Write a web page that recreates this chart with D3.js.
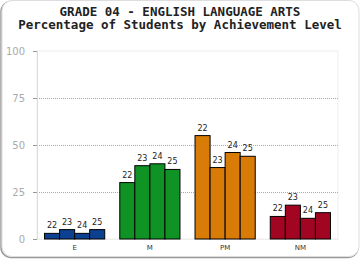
<!DOCTYPE html>
<html>
<head>
<meta charset="utf-8">
<script src="https://cdn.jsdelivr.net/npm/d3@7"></script>
<style>
body { margin: 0; background: #fff; }
</style>
</head>
<body>
<div id="chart"></div>
<script>
// data
var categories = ['E', 'M', 'PM', 'NM'];
var grades = ['22', '23', '24', '25'];
var valsE  = [3, 5, 3, 5];
var valsM  = [30, 39, 40, 37];
var valsPM = [55, 38, 46, 44];
var valsNM = [12, 18, 11, 14];
var colors = ['#0b4190', '#0f9324', '#d97b07', '#a10522'];
var yTicks = [0, 25, 50, 75, 100];

var series = [valsE, valsM, valsPM, valsNM];

var width = 360, height = 260;
var margin = {top: 51, right: 22, bottom: 21, left: 37};
var w = width - margin.left - margin.right;
var h = height - margin.top - margin.bottom;

var svg = d3.select('#chart').append('svg')
	.attr('width', width)
	.attr('height', height);

// frame
svg.append('rect')
	.attr('x', 1).attr('y', 1.5).attr('width', 357).attr('height', 256)
	.attr('rx', 10)
	.attr('fill', 'none').attr('stroke', '#999').attr('stroke-width', 1.5);
svg.append('rect')
	.attr('x', 2).attr('y', 0.5).attr('width', 357).attr('height', 256)
	.attr('rx', 10)
	.attr('fill', '#fff').attr('stroke', '#ddd');

// title
svg.append('text')
	.attr('x', 180).attr('y', 16)
	.attr('text-anchor', 'middle')
	.style('font-family', 'DejaVu Sans Mono')
	.style('font-weight', 'bold')
	.style('font-size', '12.5px')
	.attr('fill', '#222')
	.text('GRADE 04 - ENGLISH LANGUAGE ARTS');
svg.append('text')
	.attr('x', 180).attr('y', 28.5)
	.attr('text-anchor', 'middle')
	.style('font-family', 'DejaVu Sans Mono')
	.style('font-weight', 'bold')
	.style('font-size', '12.5px')
	.attr('fill', '#222')
	.text('Percentage of Students by Achievement Level');

var g = svg.append('g')
	.attr('transform', 'translate(' + margin.left + ',' + margin.top + ')');

var x0 = d3.scaleBand()
	.domain(categories)
	.range([0, w])
	.paddingInner(0.2)
	.paddingOuter(0.1);

var x1 = d3.scaleBand()
	.domain(grades)
	.range([0, x0.bandwidth()]);

var y = d3.scaleLinear()
	.domain([0, 100])
	.range([h, 0]);

// plot border
g.append('rect')
	.attr('x', 0).attr('y', 0).attr('width', w).attr('height', h)
	.attr('fill', 'none').attr('stroke', '#eee');

// grid
g.selectAll('.grid')
	.data([25, 50, 75])
	.enter().append('line')
	.attr('x1', 0).attr('x2', w)
	.attr('y1', function(d) { return Math.round(y(d)) + 0.5; })
	.attr('y2', function(d) { return Math.round(y(d)) + 0.5; })
	.attr('stroke', '#aaa')
	.attr('stroke-dasharray', '1,1');

// y axis
var yAxis = d3.axisLeft(y)
	.tickValues(yTicks)
	.tickSize(4)
	.tickPadding(8);
var yG = g.append('g').call(yAxis);
yG.select('.domain').attr('stroke', '#ddd');
yG.selectAll('.tick line').attr('stroke', '#999');
yG.selectAll('.tick text')
	.attr('fill', '#aaa')
	.style('font-family', 'DejaVu Sans')
	.style('font-size', '10px');

// x axis labels
var xAxis = d3.axisBottom(x0).tickSize(0).tickPadding(6);
var xG = g.append('g')
	.attr('transform', 'translate(0,' + h + ')')
	.call(xAxis);
xG.select('.domain').attr('stroke', '#eee');
xG.selectAll('.tick text')
	.attr('fill', '#333')
	.style('font-family', 'DejaVu Sans')
	.style('font-size', '7px');

// bars
var groups = g.selectAll('.grp')
	.data(categories)
	.enter().append('g')
	.attr('transform', function(d) { return 'translate(' + x0(d) + ',0)'; });

groups.each(function(cat, ci) {
	var vals = series[ci];
	var sel = d3.select(this);
	sel.selectAll('rect')
		.data(vals)
		.enter().append('rect')
		.attr('x', function(d, i) { return x1(grades[i]); })
		.attr('y', function(d) { return y(d); })
		.attr('width', x1.bandwidth())
		.attr('height', function(d) { return h - y(d); })
		.attr('fill', colors[ci])
		.attr('stroke', '#000')
		.attr('stroke-width', 1);
	sel.selectAll('text')
		.data(vals)
		.enter().append('text')
		.attr('x', function(d, i) { return x1(grades[i]) + x1.bandwidth() / 2; })
		.attr('y', function(d) { return y(d) - 5; })
		.attr('text-anchor', 'middle')
		.style('font-family', 'DejaVu Sans')
		.style('font-size', '8px')
		.attr('fill', '#222')
		.text(function(d, i) { return grades[i]; });
});
</script>
</body>
</html>
